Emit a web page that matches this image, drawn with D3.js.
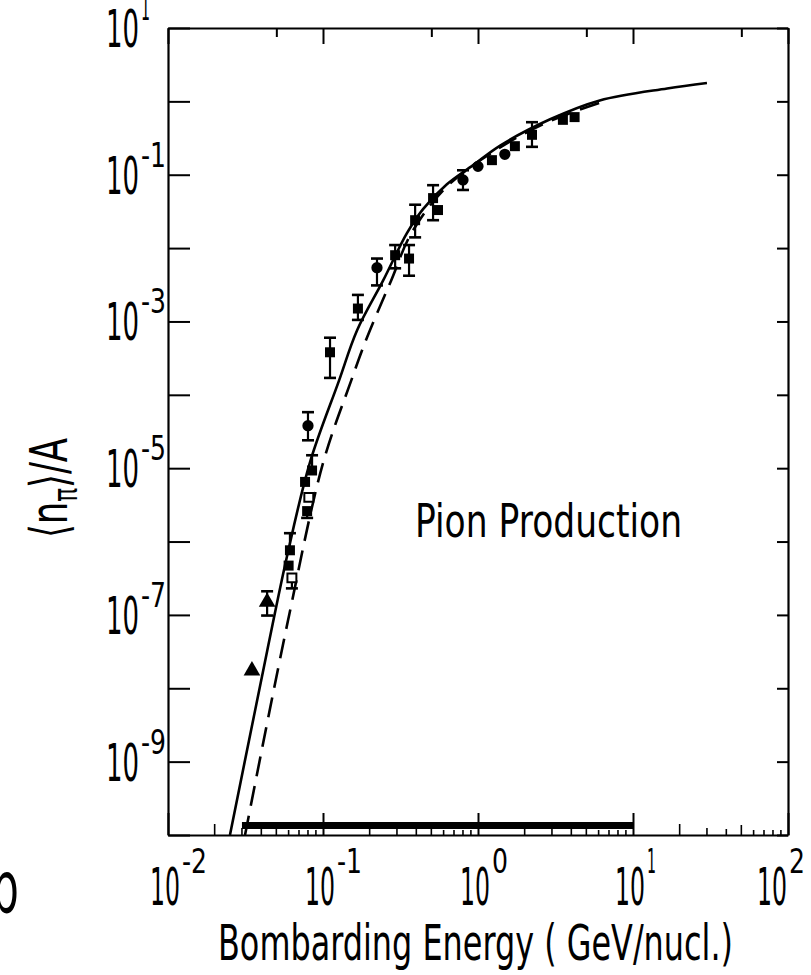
<!DOCTYPE html>
<html>
<head>
<meta charset="utf-8">
<script src="https://cdn.jsdelivr.net/npm/d3@7"></script>
<style>
  body { margin: 0; background: #fff; }
  svg { display: block; }
  text { font-family: "DejaVu Sans", sans-serif; fill: #000; }
</style>
</head>
<body>
<div class="canvas"></div>
<script>
// measured points (GeV/nucl., <n_pi>/A)
const energy = [0.0348, 0.0436, 0.0612, 0.060, 0.063, 0.079, 0.081, 0.0766, 0.085, 0.080,
                0.111, 0.168, 0.223, 0.292, 0.359, 0.393, 0.513, 0.552, 0.80, 1.0,
                1.23, 1.49, 1.73, 2.23, 3.53, 4.2];
const yieldA = [1.74e-8, 1.5e-7, 7.6e-7, 4.7e-7, 3.2e-7, 2.6e-6, 4.0e-6, 6.5e-6, 9.3e-6, 3.8e-5,
                3.8e-4, 1.5e-3, 5.4e-3, 8.0e-3, 7.2e-3, 2.4e-2, 4.8e-2, 3.3e-2, 8.5e-2, 0.13,
                0.158, 0.19, 0.245, 0.35, 0.56, 0.61];
const errLow = [null, 9.8e-8, null, null, 2.3e-7, 2.1e-6, null, null, null, 2.4e-5,
                1.7e-4, 1.05e-3, 3.1e-3, 5.3e-3, 4.2e-3, 1.4e-2, 2.4e-2, null, 6.2e-2, null,
                null, null, null, 0.24, null, null];
const errHigh = [null, 2.1e-7, 1.3e-6, null, null, null, null, null, 1.5e-5, 5.8e-5,
                 6.0e-4, 2.3e-3, 7.2e-3, 1.1e-2, 1.1e-2, 3.9e-2, 7.2e-2, null, 0.115, null,
                 null, null, null, 0.52, null, null];
const symbolType = ['tri', 'tri', 'sq', 'sq', 'open', 'sq', 'open', 'sq', 'sq', 'dot',
                    'sq', 'sq', 'dot', 'sq', 'sq', 'sq', 'sq', 'sq', 'dot', 'dot',
                    'sq', 'dot', 'sq', 'sq', 'sq', 'sq'];

// calculations
const solidE = [0.0251, 0.0436, 0.0586, 0.0824, 0.126, 0.166, 0.244, 0.348, 0.442, 0.63, 0.93, 1.39, 2.92, 6.1, 16.6, 30];
const solidY = [1e-10, 3.2e-8, 6.3e-7, 1.2e-5, 1.5e-4, 7.6e-4, 3.6e-3, 1.6e-2, 3.4e-2, 7.4e-2, 0.135, 0.25, 0.57, 1.03, 1.5, 1.78];
const dashE = [0.0314, 0.0594, 0.1, 0.151, 0.192, 0.275, 0.372, 0.63, 1.39, 2.92, 6.3];
const dashY = [1e-10, 8.3e-8, 1.17e-5, 1.5e-4, 6e-4, 3.6e-3, 1.6e-2, 6.9e-2, 0.235, 0.54, 0.98];

// energy range bar
const barRange = [0.03, 10];
const barLevel = 1.35e-10;

// tick labels
const xLabelExp = [-2, -1, 0, 1, 2];
const yLabelExp = [1, -1, -3, -5, -7, -9];

const width = 811, height = 975;
const margin = {top: 28, right: 23, bottom: 140, left: 168};

const svg = d3.select('.canvas')
    .append('svg')
    .attr('width', width)
    .attr('height', height);

svg.append('rect').attr('width', width).attr('height', height).attr('fill', '#fff');

const x = d3.scaleLog().domain([1e-2, 1e2]).range([margin.left, width - margin.right]);
const y = d3.scaleLog().domain([1e-10, 1e1]).range([height - margin.bottom, margin.top]);

const x0 = x.range()[0], x1 = x.range()[1];
const y0 = y.range()[0], y1 = y.range()[1];

svg.append('clipPath').attr('id', 'plot')
    .append('rect').attr('x', x0).attr('y', y1).attr('width', x1 - x0).attr('height', y0 - y1);

// axes (ticks point inward)
const decadesX = d3.range(-2, 3).map(e => Math.pow(10, e));
const decadesY = d3.range(-10, 2).map(e => Math.pow(10, e));

svg.append('g')
    .attr('transform', `translate(0, ${y0})`)
    .call(d3.axisBottom(x).tickValues(decadesX).tickSize(-22).tickSizeOuter(0).tickFormat(''));

svg.append('g')
    .attr('transform', `translate(0, ${y1})`)
    .call(d3.axisTop(x).tickValues(decadesX).tickSize(-16).tickSizeOuter(0).tickFormat(''));
svg.append('g')
    .attr('transform', `translate(0, ${y1})`)
    .call(d3.axisTop(x).tickValues([0.05, 0.5, 5, 50]).tickSize(-9).tickSizeOuter(0).tickFormat(''))
    .select('.domain').remove();

svg.append('g')
    .attr('transform', `translate(${x0}, 0)`)
    .call(d3.axisLeft(y).tickValues(decadesY).tickSize(-22).tickSizeOuter(0).tickFormat(''));

svg.append('g')
    .attr('transform', `translate(${x1}, 0)`)
    .call(d3.axisRight(y).tickValues(decadesY).tickSize(-11).tickSizeOuter(0).tickFormat(''));

// minor ticks on bottom axis
const minorLen = {2: 11, 3: 7, 4: 6, 5: 10, 6: 5, 7: 5, 8: 5, 9: 5};
const minors = [];
decadesX.slice(0, -1).forEach(d => {
    for (let m = 2; m <= 9; m++) minors.push({v: m * d, len: minorLen[m]});
});
svg.append('g').selectAll('line')
    .data(minors)
    .join('line')
    .attr('x1', d => x(d.v)).attr('x2', d => x(d.v))
    .attr('y1', y0).attr('y2', d => y0 - d.len)
    .attr('stroke', '#000').attr('stroke-width', 1.6);

svg.selectAll('.domain').attr('stroke', '#000').attr('stroke-width', 2.2);
svg.selectAll('.tick line').attr('stroke', '#000').attr('stroke-width', 2);

// thick energy range bar
svg.append('line')
    .attr('x1', x(barRange[0])).attr('x2', x(barRange[1]))
    .attr('y1', y(barLevel)).attr('y2', y(barLevel))
    .attr('stroke', '#000').attr('stroke-width', 7);

// curves
const line = d3.line()
    .x(d => x(d[0]))
    .y(d => y(d[1]))
    .curve(d3.curveCatmullRom.alpha(0.5));

const curves = svg.append('g').attr('clip-path', 'url(#plot)');

curves.append('path')
    .datum(solidE.map((e, i) => [e, solidY[i]]))
    .attr('d', line)
    .attr('fill', 'none')
    .attr('stroke', '#000')
    .attr('stroke-width', 2.6);

curves.append('path')
    .datum(dashE.map((e, i) => [e, dashY[i]]))
    .attr('d', line)
    .attr('fill', 'none')
    .attr('stroke', '#000')
    .attr('stroke-width', 2.6)
    .attr('stroke-dasharray', '20,10');

// data points
const pts = energy.map((e, i) => ({e, v: yieldA[i], lo: errLow[i], hi: errHigh[i], s: symbolType[i]}));

const errG = svg.append('g').attr('stroke', '#000');
pts.forEach(d => {
    const top = d.hi !== null ? d.hi : d.v;
    const bot = d.lo !== null ? d.lo : d.v;
    if (top === bot) return;
    errG.append('line')
        .attr('x1', x(d.e)).attr('x2', x(d.e))
        .attr('y1', y(top)).attr('y2', y(bot))
        .attr('stroke-width', 2.2);
    [d.hi, d.lo].filter(c => c !== null).forEach(c => {
        errG.append('line')
            .attr('x1', x(d.e) - 6).attr('x2', x(d.e) + 6)
            .attr('y1', y(c)).attr('y2', y(c))
            .attr('stroke-width', 2.6);
    });
});

const symbolOf = {
    sq: d3.symbol().type(d3.symbolSquare).size(100),
    open: d3.symbol().type(d3.symbolSquare).size(80),
    dot: d3.symbol().type(d3.symbolCircle).size(100),
    tri: d3.symbol().type(d3.symbolTriangle).size(120)
};

svg.append('g').selectAll('path')
    .data(pts)
    .join('path')
    .attr('transform', d => `translate(${x(d.e)}, ${y(d.v)})`)
    .attr('d', d => symbolOf[d.s]())
    .attr('fill', d => d.s === 'open' ? '#fff' : '#000')
    .attr('stroke', '#000')
    .attr('stroke-width', d => d.s === 'open' ? 2 : 0);

// tick labels as 10 with superscript exponent
const expWidth = e => (e < 0 ? 25 : (e === 1 ? 9 : 16));

xLabelExp.forEach(e => {
    const cx = Math.min(x(Math.pow(10, e)) - 3, 772);
    svg.append('text')
        .attr('x', cx).attr('y', y0 + 70)
        .attr('text-anchor', 'middle')
        .attr('font-size', 52)
        .attr('textLength', 30).attr('lengthAdjust', 'spacingAndGlyphs')
        .text('10');
    svg.append('text')
        .attr('x', cx + 17).attr('y', y0 + 38)
        .attr('font-size', 34)
        .attr('textLength', expWidth(e)).attr('lengthAdjust', 'spacingAndGlyphs')
        .text(e < 0 ? '-' + (-e) : String(e));
});

yLabelExp.forEach(e => {
    const ty = y(Math.pow(10, e));
    svg.append('text')
        .attr('x', 139).attr('y', ty + 19)
        .attr('text-anchor', 'end')
        .attr('font-size', 52)
        .attr('textLength', 33).attr('lengthAdjust', 'spacingAndGlyphs')
        .text('10');
    svg.append('text')
        .attr('x', 141).attr('y', ty - 8)
        .attr('font-size', 34)
        .attr('textLength', expWidth(e)).attr('lengthAdjust', 'spacingAndGlyphs')
        .text(e < 0 ? '-' + (-e) : String(e));
});

// titles
svg.append('text')
    .attr('x', 218).attr('y', 960)
    .attr('font-size', 50)
    .attr('textLength', 515).attr('lengthAdjust', 'spacingAndGlyphs')
    .text('Bombarding Energy ( GeV/nucl.)');

const yTitle = svg.append('g')
    .attr('transform', 'translate(67, 488) rotate(-90) scale(0.68, 1)')
    .append('text')
    .attr('text-anchor', 'middle')
    .attr('font-size', 52);
yTitle.append('tspan').text('\u27E8n');
yTitle.append('tspan').attr('font-size', 34).attr('dy', 10).text('\u03C0');
yTitle.append('tspan').attr('dy', -10).text('\u27E9/A');

svg.append('text')
    .attr('x', 415).attr('y', 537)
    .attr('font-size', 46)
    .attr('textLength', 267).attr('lengthAdjust', 'spacingAndGlyphs')
    .text('Pion Production');

// panel letter, cut off at the left edge
svg.append('g')
    .attr('transform', 'translate(0, 912) scale(0.6, 1)')
    .append('text')
    .attr('x', -14)
    .attr('font-size', 72)
    .text('b');
</script>
</body>
</html>
